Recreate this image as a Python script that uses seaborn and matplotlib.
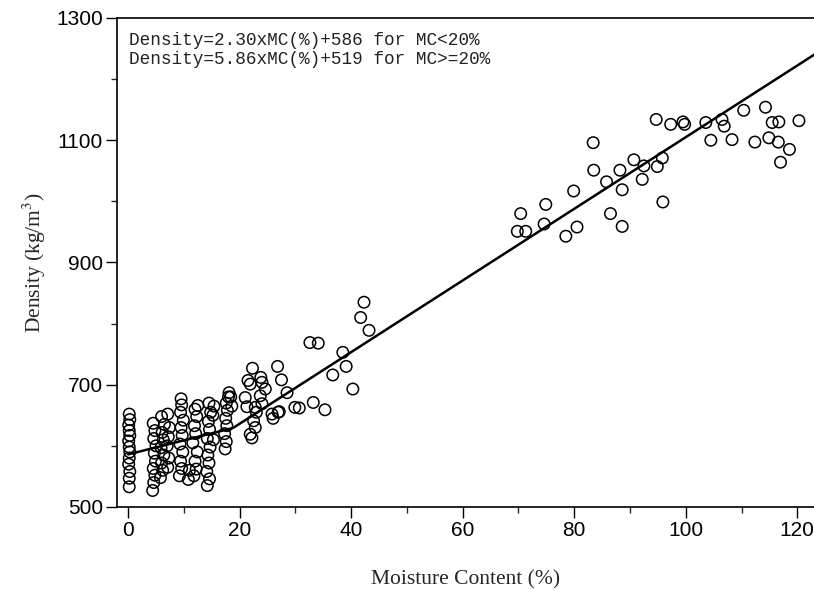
import numpy as np
import pandas as pd
import matplotlib
matplotlib.use("Agg")
import matplotlib.pyplot as plt
import seaborn as sns

# --- donnees (MC en %, densite en kg/m3) ---
mc_low = [0.2, 0.3, 0.1, 0.2, 0.3, 0.1, 0.2, 0.3, 0.2, 0.1, 0.3, 0.2, 0.2,
          4.4, 4.6, 4.8, 4.5, 4.9, 4.7, 5.0, 4.6, 4.8, 4.5,
          5.8, 6.2, 6.0, 6.4, 5.9, 6.3, 6.1, 6.5, 6.0,
          7.1, 7.3, 7.0, 7.2, 7.4, 7.1,
          9.2, 9.6, 9.4, 9.8, 9.3, 9.7, 9.5, 9.9, 9.4, 9.6, 9.5,
          11.8, 12.2, 12.0, 12.4, 11.6, 12.1, 11.9, 12.3, 12.0, 12.5, 10.8, 11.0,
          14.2, 14.6, 14.1, 14.5, 14.3, 14.7, 14.2, 14.6, 14.4, 14.8, 14.5,
          15.3, 15.2, 15.4,
          17.4, 17.6, 17.3, 17.7, 17.5, 17.8, 17.6, 18.0, 18.1, 18.6, 18.4]
dens_low = [652, 643, 634, 625, 617, 608, 598, 590, 580, 570, 558, 547, 533,
            527, 540, 552, 563, 575, 588, 600, 612, 625, 637,
            548, 560, 572, 585, 597, 610, 622, 635, 648,
            565, 580, 600, 615, 630, 652,
            551, 563, 575, 590, 603, 617, 630, 642, 655, 667, 677,
            551, 562, 575, 590, 605, 620, 633, 648, 660, 666, 545, 560,
            535, 546, 558, 572, 585, 598, 612, 627, 640, 655, 670,
            610, 650, 665,
            595, 607, 620, 633, 645, 658, 670, 680, 687, 665, 680]

mc_mid = [22.3, 21.5, 21.9, 23.8, 24.0, 24.6, 23.7, 24.0, 22.8, 23.0,
          22.5, 22.8, 21.9, 21.0, 21.3, 25.8, 26.9, 22.2, 26.0, 27.1,
          26.8, 27.5, 28.5, 29.9, 30.7, 32.6, 34.1, 33.2, 35.3,
          36.7, 38.5, 39.1, 40.3, 41.7, 42.3, 43.2]
dens_mid = [727, 707, 701, 712, 704, 693, 682, 669, 663, 655,
            641, 630, 619, 679, 664, 652, 655, 613, 645, 656,
            730, 708, 687, 663, 662, 769, 768, 671, 659,
            716, 753, 730, 693, 810, 835, 789]

mc_high = [70.4, 69.8, 71.3, 74.9, 74.6, 78.5, 80.5, 79.9, 83.4, 83.5,
           85.8, 86.5, 88.2, 88.6, 88.6, 90.7, 92.5, 92.2, 94.9, 95.8,
           95.9, 94.7, 97.3, 99.5, 99.8, 103.6, 104.5, 106.5, 106.9, 108.3,
           110.4, 112.4, 114.3, 114.9, 115.5, 116.7, 116.6, 117.0, 118.6, 120.3]
dens_high = [980, 951, 951, 995, 963, 943, 958, 1017, 1096, 1051,
             1032, 980, 1051, 1019, 959, 1068, 1058, 1036, 1057, 1071,
             999, 1134, 1126, 1130, 1126, 1129, 1100, 1134, 1123, 1101,
             1149, 1097, 1154, 1104, 1129, 1130, 1097, 1064, 1085, 1132]

# equations affichees sur le graphe
slope_low, icpt_low = 2.30, 586
slope_high, icpt_high = 5.86, 519

x_major = [0, 20, 40, 60, 80, 100, 120]
x_minor = [10, 30, 50, 70, 90, 110]
y_major = [500, 700, 900, 1100, 1300]
y_minor = [600, 800, 1000, 1200]

df = pd.DataFrame({
    "mc": mc_low + mc_mid + mc_high,
    "density": dens_low + dens_mid + dens_high,
})

sns.set_style("ticks")
plt.rcParams["mathtext.fontset"] = "stix"

fig = plt.figure(figsize=(8.14, 5.90), dpi=100)
ax = fig.add_axes([0.1437, 0.1407, 0.8563, 0.8288])

sns.scatterplot(data=df, x="mc", y="density", ax=ax, marker="o", s=68,
                facecolor="none", edgecolor="black", linewidth=1.1, legend=False)

# droite par morceaux (continue a l'intersection des deux equations)
xf = np.linspace(0, 124, 400)
yf = np.maximum(slope_low * xf + icpt_low, slope_high * xf + icpt_high)
sns.lineplot(x=xf, y=yf, ax=ax, color="black", linewidth=1.8)

ax.set_xlim(-2, 123)
ax.set_ylim(500, 1300)
ax.set_xticks(x_major)
ax.set_xticks(x_minor, minor=True)
ax.set_yticks(y_major)
ax.set_yticks(y_minor, minor=True)
ax.tick_params(which="major", direction="out", length=8, width=1, pad=2,
               labelsize=15, colors="black")
ax.tick_params(which="minor", direction="out", length=4, width=1)
for lab in ax.get_xticklabels() + ax.get_yticklabels():
    lab.set_family("Liberation Sans")

for side in ["left", "bottom", "top"]:
    ax.spines[side].set_color("black")
    ax.spines[side].set_linewidth(1.2)
ax.spines["right"].set_visible(False)

ax.set_xlabel("Moisture Content (%)", family="Liberation Serif", fontsize=15.5, labelpad=22)
ax.set_ylabel("Density (kg/m$^3$)", family="Liberation Serif", fontsize=15.5, labelpad=6)

txt = (f"Density={slope_low:.2f}xMC(%)+{icpt_low} for MC<20%\n"
       f"Density={slope_high:.2f}xMC(%)+{icpt_high} for MC>=20%")
ax.text(0.017, 0.972, txt, transform=ax.transAxes, ha="left", va="top",
        family="Liberation Mono", fontsize=12.8, linespacing=1.15, color="#222222")

fig.savefig("out.png", dpi=100)
